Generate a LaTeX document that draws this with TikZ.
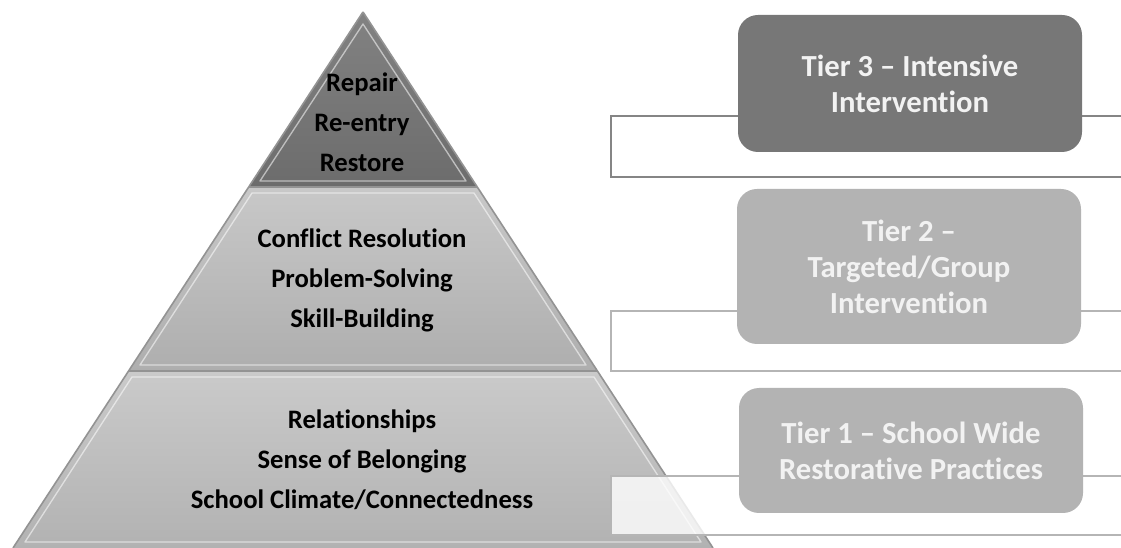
\documentclass[tikz,border=0pt]{standalone}
\usepackage{fontspec}
\setmainfont{Carlito}[RawFeature={-liga;-clig;-calt;-dlig}]
\usepackage{tikz}

\definecolor{peaktop}{HTML}{828282}
\definecolor{peakbot}{HTML}{6C6C6C}
\definecolor{midtop}{HTML}{C8C8C8}
\definecolor{midbot}{HTML}{AEAEAE}
\definecolor{basetop}{HTML}{CACACA}
\definecolor{basebot}{HTML}{B2B2B2}
\definecolor{edgegray}{HTML}{939393}
\definecolor{darktier}{HTML}{777777}
\definecolor{lighttier}{HTML}{B3B3B3}
\definecolor{linedark}{HTML}{858585}
\definecolor{linelight}{HTML}{B5B5B5}

\tikzset{
  layertext/.style={align=center, text=black, font=\fontsize{20}{30}\selectfont\bfseries},
  tierbox/.style={rounded corners=15pt, minimum width=258pt, align=center,
    text=white!95!black, font=\fontsize{23}{27}\selectfont\bfseries},
  bracket/.style={fill=white, fill opacity=0.8, line width=1.1pt},
  bevel/.style={white, opacity=0.55, line width=1pt, line join=round},
  layeredge/.style={edgegray, line width=1.2pt, line join=round}
}

\begin{document}
\begin{tikzpicture}[x=0.75pt, y=-0.75pt]

\useasboundingbox (0,0) rectangle (1121,548);
\clip (0,0) rectangle (1121,548);

% Pyramid layers
\shade[top color=basetop, bottom color=basebot] (129,371) -- (597,371) -- (713,548) -- (13,548) -- cycle;
\shade[top color=midtop, bottom color=midbot] (249,187) -- (477,187) -- (597,371) -- (129,371) -- cycle;
\shade[top color=peaktop, bottom color=peakbot] (363,12) -- (477,187) -- (249,187) -- cycle;

% Bevel highlights
\draw[bevel] (132,377) -- (594,377) -- (701,542) -- (25,542) -- cycle;
\draw[bevel] (252,193) -- (474,193) -- (586,365) -- (140,365) -- cycle;
\draw[bevel] (363,24) -- (466,181) -- (260,181) -- cycle;

% Layer outlines
\draw[layeredge] (363,12) -- (713,548);
\draw[layeredge] (363,12) -- (13,548);
\draw[layeredge] (249,187) -- (477,187);
\draw[layeredge] (129,371) -- (597,371);

% Layer labels
\node[layertext] (peaktext) at (362,122) {Repair\\Re-entry\\Restore};
\node[layertext] (midtext) at (362,280) {Conflict Resolution\\Problem-Solving\\Skill-Building};
\node[layertext] (basetext) at (362,460) {Relationships\\Sense of Belonging\\School Climate/Connectedness};

% Brackets behind the tiers
\draw[bracket, draw=linedark] (611,116) rectangle (1130,177);
\draw[bracket, draw=linelight] (611,311) rectangle (1130,371);
\draw[bracket, draw=linelight] (611,476) rectangle (1130,535);

% Tier boxes
\node[tierbox, fill=darktier, minimum height=102.75pt] (tier3) at (910,83.5) {Tier 3 -- Intensive\\Intervention};
\node[tierbox, fill=lighttier, minimum height=116.25pt] (tier2) at (909,266.5) {Tier 2 --\\Targeted/Group\\Intervention};
\node[tierbox, fill=lighttier, minimum height=93.75pt] (tier1) at (911,450.5) {Tier 1 -- School Wide\\Restorative Practices};

\end{tikzpicture}
\end{document}
